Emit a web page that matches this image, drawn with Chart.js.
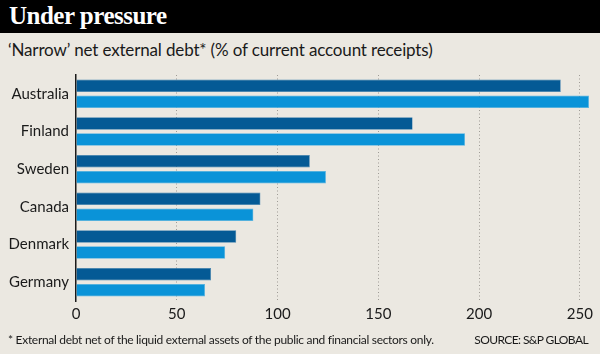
<!DOCTYPE html>
<html>
<head>
<meta charset="utf-8">
<script src="https://cdn.jsdelivr.net/npm/chart.js@4.4.1/dist/chart.umd.min.js"></script>
<style>
  html, body { margin:0; padding:0; background:#ebe8e1; }
  #wrap { position:relative; width:600px; height:354px; overflow:hidden; background:#ebe8e1; }
  #titlebar { position:absolute; left:0; top:0; width:600px; height:33px; background:#000; }
  #title { position:absolute; left:9px; top:2px; font-family:"Liberation Serif", serif; font-weight:bold; font-size:25px; color:#fff; letter-spacing:-0.5px; }
  #sub { position:absolute; left:8px; top:39px; font-family:Lato, sans-serif; font-size:17px; color:#1a1a1a; letter-spacing:-0.15px; }
  #foot { position:absolute; left:8px; top:332px; font-family:Lato, sans-serif; font-size:12px; color:#1a1a1a; letter-spacing:-0.3px; }
  #src { position:absolute; right:12px; top:332px; font-family:Lato, sans-serif; font-size:12px; color:#1a1a1a; letter-spacing:-0.6px; }
  canvas { position:absolute; left:0; top:0; }
</style>
</head>
<body>
<div id="wrap">
  <div id="titlebar"></div>
  <div id="title">Under pressure</div>
  <div id="sub">‘Narrow’ net external debt* (% of current account receipts)</div>
  <canvas id="c" width="600" height="354"></canvas>
  <div id="foot">* External debt net of the liquid external assets of the public and financial sectors only.</div>
  <div id="src">SOURCE: S&amp;P GLOBAL</div>
</div>
<script>
const categories = ['Australia', 'Finland', 'Sweden', 'Canada', 'Denmark', 'Germany'];
const seriesA = [240.5, 167, 116, 91.5, 79.5, 67];
const seriesB = [254.5, 193, 124, 88, 74, 64];
const xTicks = [0, 50, 100, 150, 200, 250];

const ctx = document.getElementById('c');
new Chart(ctx, {
  type: 'bar',
  data: {
    labels: categories,
    datasets: [
      { data: seriesA, backgroundColor: '#045a95', borderColor: '#3f80b0', borderWidth: 0.6, borderSkipped: 'start',
        categoryPercentage: 0.85, barPercentage: 0.78 },
      { data: seriesB, backgroundColor: '#0a93d8', borderColor: '#55b5e6', borderWidth: 0.6, borderSkipped: 'start',
        categoryPercentage: 0.85, barPercentage: 0.78 }
    ]
  },
  options: {
    indexAxis: 'y',
    responsive: false,
    animation: false,
    events: [],
    layout: { padding: { top: 75, bottom: 29, left: 0, right: 10 } },
    plugins: { legend: { display: false }, tooltip: { enabled: false } },
    scales: {
      x: {
        min: 0, max: 255,
        afterBuildTicks: s => { s.ticks = xTicks.map(v => ({ value: v })); },
        afterFit: s => { s.height = 24; },
        ticks: { color: '#1a1a1a', font: { family: 'Lato', size: 15 }, padding: 4, maxRotation: 0 },
        grid: {
          drawTicks: false,
          color: c => (c.tick && c.tick.value === 0) ? 'rgba(0,0,0,0)' : '#9e9b95',
          lineWidth: 1,
          borderDash: [1, 2.5]
        },
        border: { display: true, color: 'rgba(0,0,0,0)', width: 0, dash: [1, 2.5] }
      },
      y: {
        afterFit: s => { s.width = 76; },
        ticks: { color: '#1a1a1a', font: { family: 'Lato', size: 15 }, padding: 7 },
        grid: { display: false, drawTicks: false },
        border: { display: true, color: '#1a1a1a', width: 1.5 }
      }
    }
  }
});
</script>
</body>
</html>
